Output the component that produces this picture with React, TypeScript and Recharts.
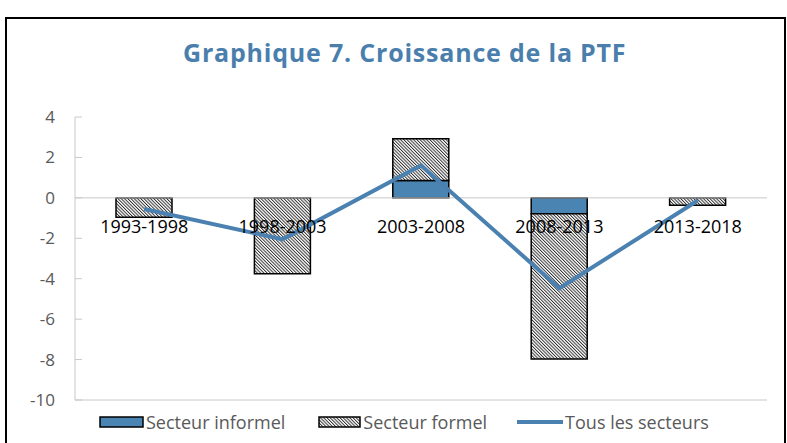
import React from 'react';
import { ComposedChart, Bar, Line, XAxis, YAxis, ReferenceLine } from 'recharts';

const categories = ['1993-1998', '1998-2003', '2003-2008', '2008-2013', '2013-2018'];
const informel = [0, 0, 0.86, -0.79, 0];
const formel = [-0.96, -3.76, 2.06, -7.18, -0.36];
const total = [-0.55, -2.05, 1.6, -4.47, -0.13];
const yTicks = [-10, -8, -6, -4, -2, 0, 2, 4];

const Y_MIN = -10;
const Y_MAX = 4;
const W = 787;
const H = 443;
const X_AXIS_H = 30;
const M = { top: 117, right: 20, bottom: 43 - X_AXIS_H, left: 15 };
const PLOT_H = H - M.top - M.bottom - X_AXIS_H;

const BLUE = '#4a84b2';
const LINE_BLUE = '#4a81b1';
const FONT = '"Open Sans", sans-serif';

const data = categories.map((c, i) => ({
  cat: c,
  informel: informel[i],
  formel: formel[i],
  total: total[i],
}));

const zeroFromBottom = (PLOT_H * (0 - Y_MIN)) / (Y_MAX - Y_MIN);

const CatTick = (props: any) => {
  const { x, y, payload } = props;
  return (
    <text
      x={x}
      y={y - zeroFromBottom + 33}
      textAnchor="middle"
      fontFamily={FONT}
      fontSize={18}
      fill="#000"
    >
      {payload && payload.value}
    </text>
  );
};

const HatchPattern = ({ id }: { id: string }) => (
  <pattern id={id} width="2.3" height="2.3" patternUnits="userSpaceOnUse" patternTransform="rotate(-45)">
    <rect width="2.3" height="2.3" fill="#fff" />
    <line x1="0.5" y1="0" x2="0.5" y2="2.3" stroke="#222" strokeWidth="0.9" />
  </pattern>
);

export default function App() {
  return (
    <div style={{ position: 'absolute', left: 0, top: 0, width: W, height: H, overflow: 'hidden', background: '#fff' }}>
      <div
        style={{
          position: 'absolute',
          left: 5,
          top: 17,
          width: 781,
          height: 440,
          border: '2.5px solid #000',
          boxSizing: 'border-box',
        }}
      />
      <div
        style={{
          position: 'absolute',
          left: 183,
          top: 35,
          whiteSpace: 'nowrap',
          fontFamily: FONT,
          fontWeight: 700,
          fontSize: 25,
          letterSpacing: 0.8,
          color: '#4a7fad',
        }}
      >
        Graphique 7. Croissance de la PTF
      </div>
      <div style={{ position: 'absolute', left: 0, top: 0 }}>
        <ComposedChart width={W} height={H} data={data} margin={M} stackOffset="sign" barCategoryGap="0%">
          <defs>
            <HatchPattern id="hatch" />
          </defs>
          <XAxis
            dataKey="cat"
            xAxisId="top"
            orientation="top"
            height={0}
            tick={false}
            tickLine={false}
            axisLine={{ stroke: '#c8c8c8' }}
          />
          <XAxis
            dataKey="cat"
            height={X_AXIS_H}
            tickSize={0}
            tickLine={false}
            axisLine={{ stroke: '#c8c8c8' }}
            tick={(p: any) => <CatTick {...p} />}
            interval={0}
          />
          <YAxis
            domain={[Y_MIN, Y_MAX]}
            ticks={yTicks}
            width={60}
            tickSize={-7}
            tickMargin={27}
            tickLine={{ stroke: '#c8c8c8' }}
            axisLine={{ stroke: '#c8c8c8' }}
            tick={{ fill: '#595959', fontSize: 17, fontFamily: FONT }}
            allowDataOverflow
          />
          <YAxis
            yAxisId="right"
            orientation="right"
            domain={[Y_MIN, Y_MAX]}
            width={0}
            tick={false}
            tickLine={false}
            axisLine={{ stroke: '#c8c8c8' }}
          />
          <ReferenceLine y={0} stroke="#c8c8c8" strokeWidth={1} />
          <Bar dataKey="informel" stackId="s" barSize={56} fill={BLUE} stroke="#000" strokeWidth={1.5} isAnimationActive={false} />
          <Bar dataKey="formel" stackId="s" barSize={56} fill="url(#hatch)" stroke="#000" strokeWidth={1.5} isAnimationActive={false} />
          <Line dataKey="total" type="linear" stroke={LINE_BLUE} strokeWidth={4} dot={false} activeDot={false} isAnimationActive={false} />
        </ComposedChart>
      </div>
      <div
        style={{
          position: 'absolute',
          top: 410,
          left: 99,
          display: 'flex',
          alignItems: 'center',
          fontFamily: FONT,
          fontSize: 18,
          color: '#595959',
        }}
      >
        <div style={{ display: 'flex', alignItems: 'center' }}>
          <svg width={45} height={12} style={{ display: 'block' }}>
            <rect x={1} y={1} width={43} height={10} fill={BLUE} stroke="#000" strokeWidth={1.5} />
          </svg>
          <span style={{ marginLeft: 2 }}>Secteur informel</span>
        </div>
        <div style={{ display: 'flex', alignItems: 'center', marginLeft: 33 }}>
          <svg width={43} height={12} style={{ display: 'block' }}>
            <defs>
              <HatchPattern id="hatchLeg" />
            </defs>
            <rect x={1} y={1} width={41} height={10} fill="url(#hatchLeg)" stroke="#000" strokeWidth={1.5} />
          </svg>
          <span style={{ marginLeft: 2 }}>Secteur formel</span>
        </div>
        <div style={{ display: 'flex', alignItems: 'center', marginLeft: 30 }}>
          <svg width={46} height={12} style={{ display: 'block' }}>
            <line x1={0} y1={6} x2={46} y2={6} stroke={LINE_BLUE} strokeWidth={4} />
          </svg>
          <span style={{ marginLeft: 2 }}>Tous les secteurs</span>
        </div>
      </div>
    </div>
  );
}
